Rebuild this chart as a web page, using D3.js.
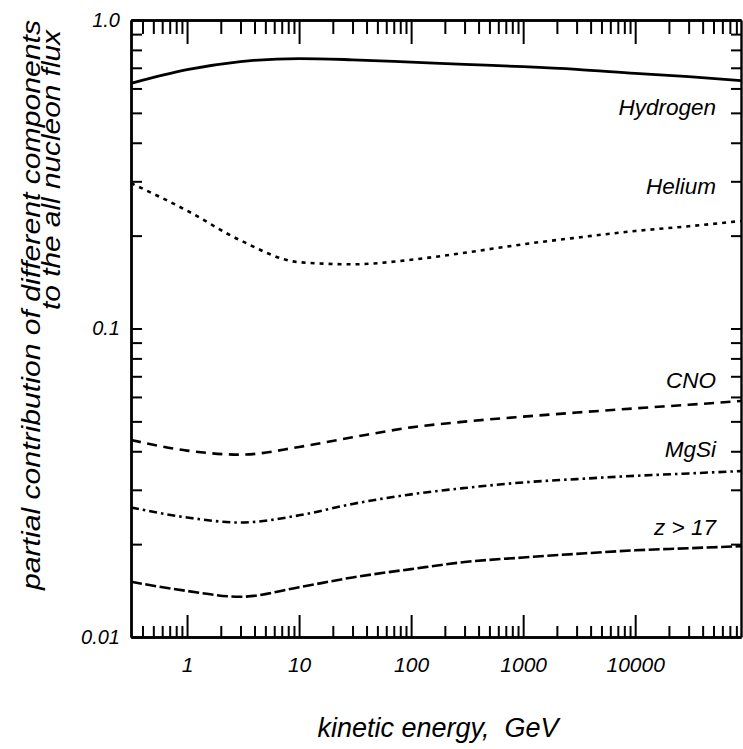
<!DOCTYPE html>
<html>
<head>
<meta charset="utf-8">
<script src="https://cdn.jsdelivr.net/npm/d3@7"></script>
<style>
  html, body { margin: 0; padding: 0; background: #fff; }
  text { font-family: "Liberation Sans", Arial, Helvetica, sans-serif; font-style: italic; fill: #000; white-space: pre; }
</style>
</head>
<body>
<script>
// ---- data ----
const energies = [0.316, 1, 3, 10, 30, 100, 300, 1000, 3000, 10000, 30000, 88000];
const hydrogen = [0.623, 0.690, 0.733, 0.750, 0.743, 0.730, 0.718, 0.706, 0.692, 0.671, 0.655, 0.636];
const helium   = [0.296, 0.241, 0.193, 0.164, 0.1615, 0.167, 0.176, 0.1875, 0.197, 0.207, 0.2145, 0.223];
const cno      = [0.0435, 0.0402, 0.0390, 0.0413, 0.0444, 0.0478, 0.0499, 0.0518, 0.0534, 0.0551, 0.0566, 0.0582];
const mgsi     = [0.0263, 0.0244, 0.0235, 0.0248, 0.0270, 0.0290, 0.0304, 0.0317, 0.0325, 0.0333, 0.0339, 0.0345];
const zgt17    = [0.0151, 0.0141, 0.0135, 0.0145, 0.0156, 0.0166, 0.0175, 0.0181, 0.0186, 0.0191, 0.0194, 0.0197];

const seriesNames = ["Hydrogen", "Helium", "CNO", "MgSi", "z > 17"];
const seriesValues = [hydrogen, helium, cno, mgsi, zgt17];

const xDomain = [0.316, 88000];
const yDomain = [0.01, 1];
const xTickValues = [1, 10, 100, 1000, 10000];
const xTickLabels = ["1", "10", "100", "1000", "10000"];
const yTickValues = [0.01, 0.1, 1];
const yTickLabels = ["0.01", "0.1", "1.0"];
const xTitle = "kinetic energy,  GeV";
const yTitle = ["partial contribution of different components", "to the all nucleon flux"];

// ---- styles ----
const dashes = [null, "4,5", "10,6.5", "8,4,2.5,4", "11,3.5"];
const labelBaselines = [115, 194, 388, 457, 535];

const W = 743, H = 749;
const L = 131, R = 741, T = 20, B = 637;

const svg = d3.select("body").append("svg").attr("width", W).attr("height", H);

const x = d3.scaleLog().domain(xDomain).range([L, R]);
const y = d3.scaleLog().domain(yDomain).range([B, T]);

const isMajor = v => Math.abs(Math.log10(v) - Math.round(Math.log10(v))) < 1e-6;
const xMinor = x.ticks().filter(v => !isMajor(v) && v >= xDomain[0] && v <= xDomain[1]);
const yMinor = y.ticks().filter(v => !isMajor(v));

function styleAxis(g) {
  g.attr("font-family", null).attr("font-size", null);
  g.select(".domain").attr("stroke", "#000").attr("stroke-width", 2.4);
  g.selectAll(".tick line").attr("stroke", "#000").attr("stroke-width", 2);
  g.selectAll("text").attr("fill", "#000");
}

// bottom axis
svg.append("g").attr("transform", `translate(0,${B})`)
  .call(d3.axisBottom(x).tickValues(xTickValues).tickSize(-22).tickSizeOuter(0).tickPadding(20)
        .tickFormat((d, i) => xTickLabels[i]))
  .call(styleAxis)
  .selectAll("text").style("font-size", "21px");
svg.append("g").attr("transform", `translate(0,${B})`)
  .call(d3.axisBottom(x).tickValues(xMinor).tickSize(-11).tickSizeOuter(0).tickFormat(""))
  .call(styleAxis);

// top axis
svg.append("g").attr("transform", `translate(0,${T})`)
  .call(d3.axisTop(x).tickValues(xTickValues).tickSize(-24).tickSizeOuter(0).tickFormat(""))
  .call(styleAxis);
svg.append("g").attr("transform", `translate(0,${T})`)
  .call(d3.axisTop(x).tickValues(xMinor).tickSize(-14).tickSizeOuter(0).tickFormat(""))
  .call(styleAxis);

// left axis
svg.append("g").attr("transform", `translate(${L},0)`)
  .call(d3.axisLeft(y).tickValues(yTickValues).tickSize(-11).tickSizeOuter(0).tickPadding(11)
        .tickFormat((d, i) => yTickLabels[i]))
  .call(styleAxis)
  .selectAll("text").style("font-size", "20px");
svg.append("g").attr("transform", `translate(${L},0)`)
  .call(d3.axisLeft(y).tickValues(yMinor).tickSize(-11).tickSizeOuter(0).tickFormat(""))
  .call(styleAxis);

// right axis
svg.append("g").attr("transform", `translate(${R},0)`)
  .call(d3.axisRight(y).tickValues(yTickValues.concat(yMinor)).tickSize(-10).tickSizeOuter(0).tickFormat(""))
  .call(styleAxis);

// curves
const line = d3.line().curve(d3.curveMonotoneX);
seriesValues.forEach((vals, si) => {
  const pts = energies.map((e, i) => [x(e), y(vals[i])]);
  svg.append("path")
    .attr("d", line(pts))
    .attr("fill", "none")
    .attr("stroke", "#000")
    .attr("stroke-width", si === 0 ? 2.8 : 2.6)
    .attr("stroke-dasharray", dashes[si]);
  svg.append("text")
    .attr("x", 716).attr("y", labelBaselines[si])
    .attr("text-anchor", "end")
    .style("font-size", "22.5px")
    .text(seriesNames[si]);
});

// axis titles
svg.append("text")
  .attr("x", 438).attr("y", 737)
  .attr("text-anchor", "middle")
  .style("font-size", "27px")
  .text(xTitle);

// y title: [baseline x, centre y, length]
[ [40, 305, 570], [60, 170, 280] ].forEach((p, i) => {
  svg.append("text")
    .attr("transform", `translate(${p[0]},${p[1]}) rotate(-90)`)
    .attr("text-anchor", "middle")
    .attr("textLength", p[2])
    .attr("lengthAdjust", "spacingAndGlyphs")
    .style("font-size", "25px")
    .text(yTitle[i]);
});
</script>
</body>
</html>
